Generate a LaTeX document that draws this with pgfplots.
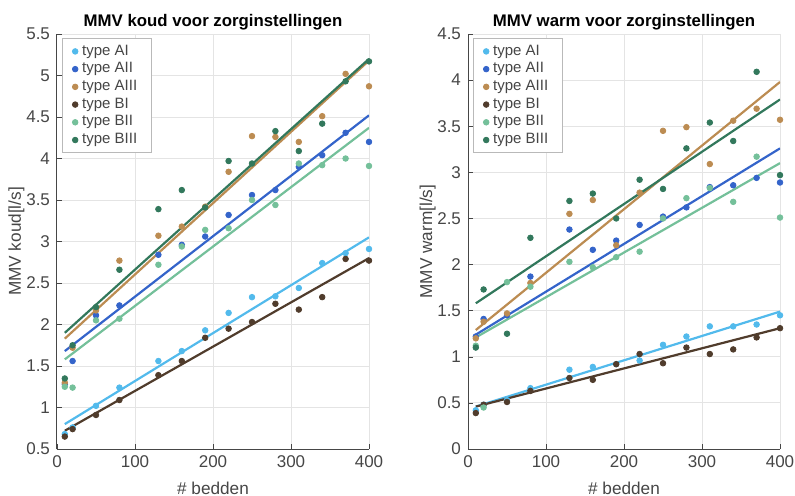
\documentclass[border=0pt]{standalone}
\usepackage{fontspec}
\setmainfont{Liberation Sans}
\usepackage{pgfplots}
\usepackage{pgfplotstable}
\pgfplotsset{compat=1.18}

\definecolor{cAI}{RGB}{82,186,236}
\definecolor{cAII}{RGB}{52,100,202}
\definecolor{cAIII}{RGB}{188,140,82}
\definecolor{cBI}{RGB}{80,60,44}
\definecolor{cBII}{RGB}{116,192,154}
\definecolor{cBIII}{RGB}{50,120,92}
\definecolor{axgray}{RGB}{70,70,70}
\definecolor{gridgray}{RGB}{228,228,228}

% meetpunten MMV koud
\pgfplotstableread{
x    AI    AII   AIII  BI    BII   BIII
10   0.68  1.28  1.30  0.65  1.25  1.35
20   0.76  1.56  1.72  0.74  1.24  1.75
50   1.02  2.11  2.17  0.91  2.05  2.21
80   1.24  2.23  2.77  1.09  2.07  2.66
130  1.56  2.84  3.07  1.39  2.72  3.39
160  1.68  2.96  3.18  1.56  2.94  3.62
190  1.93  3.06  3.42  1.84  3.14  3.41
220  2.14  3.32  3.84  1.95  3.16  3.97
250  2.33  3.56  4.27  2.03  3.50  3.94
280  2.34  3.62  4.26  2.25  3.44  4.33
310  2.44  3.90  4.20  2.18  3.94  4.09
340  2.74  4.04  4.51  2.33  3.92  4.42
370  2.86  4.31  5.02  2.79  4.00  4.93
400  2.91  4.20  4.87  2.77  3.91  5.17
}\koud
% fitlijnen koud (begin- en eindpunt)
\pgfplotstableread{
x    AI    AII   AIII  BI    BII   BIII
10   0.80  1.68  1.83  0.72  1.58  1.90
400  3.05  4.52  5.18  2.80  4.37  5.20
}\koudfit

% meetpunten MMV warm
\pgfplotstableread{
x    AI    AII   AIII  BI    BII   BIII
10   0.42  1.22  1.20  0.39  1.12  1.10
20   0.48  1.41  1.38  0.48  0.45  1.73
50   0.53  1.45  1.47  0.51  1.81  1.25
80   0.66  1.87  1.80  0.63  1.76  2.29
130  0.86  2.38  2.55  0.77  2.03  2.69
160  0.89  2.16  2.70  0.75  1.97  2.77
190  0.92  2.26  2.21  0.92  2.08  2.50
220  0.96  2.43  2.78  1.03  2.14  2.92
250  1.13  2.52  3.45  0.93  2.50  2.82
280  1.22  2.62  3.49  1.10  2.72  3.26
310  1.33  2.84  3.09  1.03  2.83  3.54
340  1.33  2.86  3.56  1.08  2.68  3.34
370  1.35  2.94  3.69  1.21  3.17  4.09
400  1.45  2.89  3.57  1.31  2.51  2.97
}\warm
\pgfplotstableread{
x    AI    AII   AIII  BI    BII   BIII
10   0.46  1.24  1.29  0.46  1.21  1.58
400  1.49  3.26  3.98  1.31  3.10  3.79
}\warmfit

\pgfplotsset{
  mmv/.style={
    scale only axis, width=156pt, height=207.5pt,
    xmin=0, xmax=400, xtick={0,100,...,400},
    axis x line*=bottom, axis y line*=left,
    grid=major, major grid style={gridgray, line width=0.5pt},
    axis line style={axgray, line width=0.5pt},
    tick style={axgray}, tick align=inside, major tick length=2.5pt,
    ticklabel style={font=\fontsize{8.5}{10}\selectfont, text=axgray},
    /pgf/number format/assume math mode=true,
    label style={font=\fontsize{8.6}{10}\selectfont, text=axgray},
    title style={font=\bfseries\fontsize{8.4}{10}\selectfont, yshift=-7.5pt},
    xlabel={\# bedden}, ylabel shift=-6pt,
    legend style={at={(0.016,0.99)}, anchor=north west,
      font=\fontsize{7.5}{9}\selectfont, text=axgray,
      draw=gray!55, fill=white, inner xsep=5pt, inner ysep=2pt,
      row sep=0pt, nodes={inner xsep=2.1pt, inner ysep=1.1pt}},
    legend cell align=left,
  },
  pts/.style={only marks, mark=*, mark size=1.4pt, color=#1},
  fit/.style={color=#1, line width=1.1pt, forget plot},
}

\begin{document}
\begin{tikzpicture}
\useasboundingbox (-28.5pt,-23pt) rectangle (369pt,224.5pt);

\begin{axis}[mmv,
  title={MMV koud voor zorginstellingen},
  ymin=0.5, ymax=5.5, ytick={0.5,1,...,5.5},
  ylabel={MMV koud[l/s]}]
\addplot[pts=cAI] table[x=x,y=AI] {\koud};
\addplot[pts=cAII] table[x=x,y=AII] {\koud};
\addplot[pts=cAIII] table[x=x,y=AIII] {\koud};
\addplot[pts=cBI] table[x=x,y=BI] {\koud};
\addplot[pts=cBII] table[x=x,y=BII] {\koud};
\addplot[pts=cBIII] table[x=x,y=BIII] {\koud};
\addplot[fit=cAI] table[x=x,y=AI] {\koudfit};
\addplot[fit=cAII] table[x=x,y=AII] {\koudfit};
\addplot[fit=cAIII] table[x=x,y=AIII] {\koudfit};
\addplot[fit=cBI] table[x=x,y=BI] {\koudfit};
\addplot[fit=cBII] table[x=x,y=BII] {\koudfit};
\addplot[fit=cBIII] table[x=x,y=BIII] {\koudfit};
\legend{type AI, type AII, type AIII, type BI, type BII, type BIII}
\end{axis}

\begin{axis}[mmv, at={(205.5pt,0pt)},
  title={MMV warm voor zorginstellingen},
  ymin=0, ymax=4.5, ytick={0,0.5,...,4.5},
  ylabel={MMV warm[l/s]}]
\addplot[pts=cAI] table[x=x,y=AI] {\warm};
\addplot[pts=cAII] table[x=x,y=AII] {\warm};
\addplot[pts=cAIII] table[x=x,y=AIII] {\warm};
\addplot[pts=cBI] table[x=x,y=BI] {\warm};
\addplot[pts=cBII] table[x=x,y=BII] {\warm};
\addplot[pts=cBIII] table[x=x,y=BIII] {\warm};
\addplot[fit=cAI] table[x=x,y=AI] {\warmfit};
\addplot[fit=cAII] table[x=x,y=AII] {\warmfit};
\addplot[fit=cAIII] table[x=x,y=AIII] {\warmfit};
\addplot[fit=cBI] table[x=x,y=BI] {\warmfit};
\addplot[fit=cBII] table[x=x,y=BII] {\warmfit};
\addplot[fit=cBIII] table[x=x,y=BIII] {\warmfit};
\legend{type AI, type AII, type AIII, type BI, type BII, type BIII}
\end{axis}
\end{tikzpicture}
\end{document}
